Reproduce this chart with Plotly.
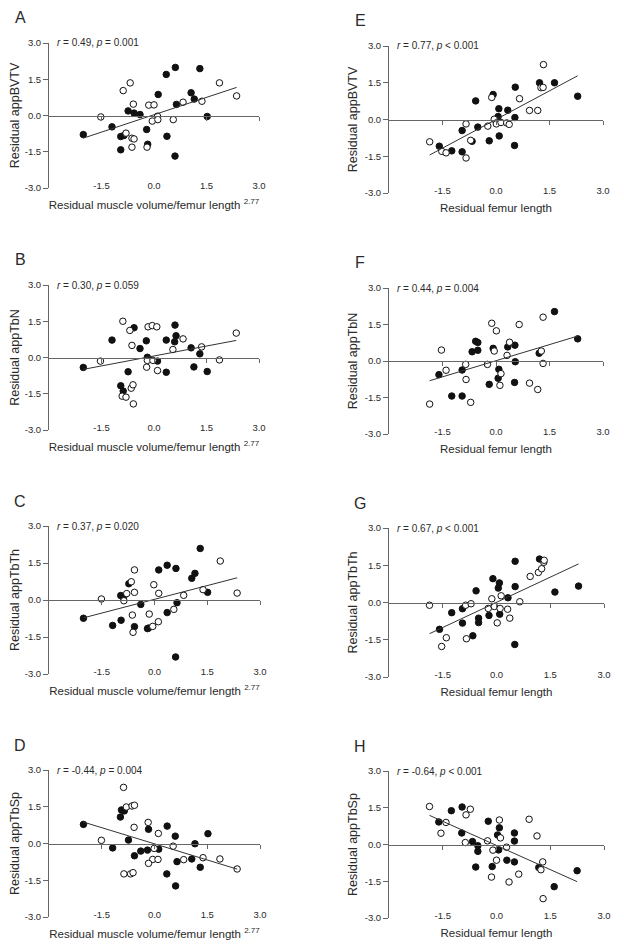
import numpy as np
import plotly.graph_objects as go

# ---------------- data ----------------
A_filled_x = [-2.02, -1.20, -0.95, -0.86, -0.95, -0.74, -0.57, -0.40, -0.21, -0.18, 0.12, 0.35, 0.37, 0.61, 0.64, 0.60, 1.06, 1.15, 1.31, 1.52]
A_filled_y = [-0.79, -0.47, -0.87, -0.83, -1.42, 0.19, 0.10, 0.04, -0.58, -1.19, 0.87, 1.70, -0.86, 1.99, 0.46, -1.68, 0.94, 0.68, 1.94, -0.04]
A_open_x = [-1.52, -0.88, -0.68, -0.80, -0.59, -0.63, -0.57, -0.63, -0.15, 0.00, -0.20, -0.05, 0.10, 0.11, 0.55, 0.83, 1.37, 1.87, 2.36]
A_open_y = [-0.06, 1.03, 1.35, -0.73, 0.47, -0.94, -0.97, -1.31, 0.43, 0.44, -1.31, -0.23, -0.03, -0.17, -0.17, 0.55, 0.59, 1.35, 0.81]

B_filled_x = [-2.02, -1.20, -0.95, -0.88, -0.74, -0.57, -0.40, -0.22, -0.19, 0.10, 0.35, 0.35, 0.60, 0.63, 0.59, 1.06, 1.14, 1.31, 1.52]
B_filled_y = [-0.41, 0.72, -1.17, -1.39, -0.59, 1.23, 0.37, 0.69, 0.01, -0.15, 0.72, -0.61, 1.34, 0.90, 0.65, 0.40, -0.39, 0.15, -0.58]
B_open_x = [-1.53, -0.89, -0.69, -0.63, -0.91, -0.80, -0.65, -0.60, -0.59, -0.17, -0.05, 0.08, -0.21, -0.19, -0.03, 0.10, 0.54, 0.83, 1.36, 1.87, 2.35]
B_open_y = [-0.15, 1.50, 1.12, 0.50, -1.60, -1.64, -1.27, -1.13, -1.92, 1.27, 1.32, 1.27, -0.40, -0.12, -0.12, -0.54, 0.33, 0.77, 0.44, -0.10, 1.01]

C_filled_x = [-2.02, -1.19, -0.96, -0.88, -0.95, -0.73, -0.57, -0.39, -0.20, -0.17, 0.12, 0.36, 0.36, 0.61, 0.64, 0.60, 1.06, 1.15, 1.30, 1.51]
C_filled_y = [-0.74, -1.03, 0.18, 0.09, -0.82, 0.66, -1.08, -0.18, -1.16, -1.14, 1.22, 1.41, -0.51, 1.28, -0.11, -2.31, 0.88, 1.08, 2.09, 0.31]
C_open_x = [-1.51, -0.87, -0.79, -0.66, -0.57, -0.57, -0.63, -0.61, -0.15, -0.02, -0.05, 0.11, 0.12, 0.55, 0.83, 1.38, 1.87, 2.35]
C_open_y = [0.04, -0.03, 0.26, 0.74, 1.22, 0.31, -0.61, -1.31, -0.57, 0.62, -1.07, -0.88, 0.27, -0.38, 0.19, 0.42, 1.58, 0.28]

D_filled_x = [-2.02, -1.19, -0.97, -0.94, -0.86, -0.74, -0.57, -0.39, -0.20, -0.17, 0.12, 0.36, 0.35, 0.59, 0.64, 0.60, 1.06, 1.15, 1.30, 1.52]
D_filled_y = [0.78, -0.18, 1.08, 1.37, 1.33, 0.14, -0.50, -0.31, -0.27, 0.58, -0.23, 0.71, -1.24, 0.30, -0.74, -1.73, -0.63, -0.01, -0.97, 0.40]
D_open_x = [-1.51, -0.88, -0.80, -0.64, -0.57, -0.58, -0.87, -0.68, -0.61, -0.18, -0.01, -0.05, -0.17, 0.10, 0.11, 0.53, 0.83, 1.38, 1.86, 2.35]
D_open_y = [0.13, 2.29, 1.49, 1.53, 1.56, 0.66, -1.24, -1.24, -1.19, 0.86, -0.20, -0.65, -0.81, -0.65, 0.41, -0.11, -0.66, -0.58, -0.63, -1.04]

E_filled_x = [-1.59, -1.24, -0.95, -0.95, -0.67, -0.57, -0.51, -0.19, -0.08, 0.08, 0.06, 0.09, 0.33, 0.54, 0.53, 0.52, 1.22, 1.64, 2.29]
E_filled_y = [-1.09, -1.28, -0.45, -1.32, -0.89, 0.76, -0.31, -0.87, 1.02, 0.44, 0.12, -0.67, 0.38, 1.32, 0.08, -1.06, 1.50, 1.50, 0.95]
E_open_x = [-1.86, -1.52, -1.40, -0.84, -0.71, -0.84, -0.23, -0.12, -0.05, 0.01, 0.14, 0.30, 0.37, 0.66, 0.94, 1.17, 1.26, 1.32, 1.33]
E_open_y = [-0.91, -1.30, -1.36, -0.18, -0.85, -1.57, -0.27, 0.90, 0.01, -0.18, -0.12, -0.14, -0.20, 0.85, 0.37, 0.37, 1.30, 1.31, 2.24]

F_filled_x = [-1.60, -1.24, -0.95, -0.95, -0.67, -0.57, -0.51, -0.51, -0.19, -0.08, 0.08, 0.06, 0.33, 0.53, 0.54, 0.52, 1.21, 1.64, 2.29]
F_filled_y = [-0.56, -1.44, -0.37, -1.44, 0.38, 0.81, 0.76, 0.44, -0.96, 0.52, -0.34, -0.71, 0.58, 0.65, -0.03, -0.88, 0.32, 2.03, 0.91]
F_open_x = [-1.86, -1.53, -1.40, -0.85, -0.84, -0.71, -0.24, -0.12, -0.05, 0.01, 0.11, 0.14, 0.38, 0.31, 0.65, 0.94, 1.17, 1.27, 1.32, 1.32]
F_open_y = [-1.77, 0.45, -0.38, -0.14, -0.76, -1.70, -0.14, 1.55, 0.41, 1.24, -1.00, -0.52, 0.77, 0.23, 1.50, -0.91, -1.17, 0.41, -0.10, 1.80]

G_filled_x = [-1.59, -1.25, -0.95, -0.95, -0.66, -0.57, -0.50, -0.50, -0.21, -0.10, 0.05, 0.08, 0.09, 0.32, 0.52, 0.52, 0.51, 1.20, 1.63, 2.29]
G_filled_y = [-1.08, -0.41, -0.25, -0.83, -1.34, 0.47, -0.63, -0.81, -0.52, 0.96, 0.58, 0.79, -0.47, 0.19, 1.66, 0.64, -1.69, 1.75, 0.42, 0.66]
G_open_x = [-1.87, -1.53, -1.40, -0.86, -0.71, -0.84, -0.23, -0.13, -0.06, 0.02, 0.10, 0.13, 0.31, 0.37, 0.65, 0.94, 1.17, 1.26, 1.32, 1.33]
G_open_y = [-0.11, -1.77, -1.42, -0.11, -0.05, -1.46, -0.24, 0.15, -0.16, -0.82, -0.24, 0.27, -0.27, -0.63, 0.03, 1.05, 1.21, 1.36, 1.62, 1.70]

H_filled_x = [-1.61, -1.26, -0.96, -0.97, -0.67, -0.52, -0.52, -0.58, -0.23, -0.12, 0.03, 0.08, 0.06, 0.29, 0.50, 0.50, 0.50, 1.18, 1.61, 2.25]
H_filled_y = [0.92, 1.38, 1.53, 0.47, 0.12, -0.05, -0.28, -0.92, 0.95, -0.90, 0.39, 0.68, -0.22, -0.64, 0.47, 0.14, -0.71, -0.94, -1.72, -1.07]
H_open_x = [-1.87, -1.55, -1.41, -0.87, -0.85, -0.73, -0.25, -0.10, 0.00, -0.14, 0.08, 0.11, 0.28, 0.35, 0.62, 0.91, 1.13, 1.24, 1.29, 1.30]
H_open_y = [1.55, 0.46, 0.90, 0.08, 1.21, 1.44, 0.15, -0.23, -0.64, -1.33, 1.00, 0.27, -0.11, -1.53, -1.21, 1.03, 0.35, -1.03, -0.71, -2.21]

panel_letters = ["A", "B", "C", "D", "E", "F", "G", "H"]
y_titles = ["Residual appBVTV", "Residual appTbN", "Residual appTbTh", "Residual appTbSp"] * 2
x_titles = ["Residual muscle volume/femur length <sup>2.77</sup>"] * 4 + ["Residual femur length"] * 4
stat_texts = [
    "<i>r</i> = 0.49, <i>p</i> = 0.001",
    "<i>r</i> = 0.30, <i>p</i> = 0.059",
    "<i>r</i> = 0.37, <i>p</i> = 0.020",
    "<i>r</i> = -0.44, <i>p</i> = 0.004",
    "<i>r</i> = 0.77, <i>p</i> &lt; 0.001",
    "<i>r</i> = 0.44, <i>p</i> = 0.004",
    "<i>r</i> = 0.67, <i>p</i> &lt; 0.001",
    "<i>r</i> = -0.64, <i>p</i> &lt; 0.001",
]
x_tick_vals = [-1.5, 0.0, 1.5, 3.0]
x_tick_text = ["-1.5", "0.0", "1.5", "3.0"]
y_tick_vals = [-3.0, -1.5, 0.0, 1.5, 3.0]
y_tick_text = ["-3.0", "-1.5", "0.0", "1.5", "3.0"]
axis_range = [-3, 3]

panel_data = {
    "A": (A_filled_x, A_filled_y, A_open_x, A_open_y),
    "B": (B_filled_x, B_filled_y, B_open_x, B_open_y),
    "C": (C_filled_x, C_filled_y, C_open_x, C_open_y),
    "D": (D_filled_x, D_filled_y, D_open_x, D_open_y),
    "E": (E_filled_x, E_filled_y, E_open_x, E_open_y),
    "F": (F_filled_x, F_filled_y, F_open_x, F_open_y),
    "G": (G_filled_x, G_filled_y, G_open_x, G_open_y),
    "H": (H_filled_x, H_filled_y, H_open_x, H_open_y),
}

# ---------------- layout geometry ----------------
# The page body has an 8px margin, so the figure is sized to fit inside the
# 624x952 window and page-pixel positions are shifted by that margin.
PAGE_OFF = 8
W, H = 608, 936
geom = {  # left, right, top, bottom of plot area, in page pixels
    "A": (49, 259, 43, 188),
    "B": (49, 259, 285, 430),
    "C": (49, 260, 526, 674),
    "D": (49, 260, 770, 917),
    "E": (389, 603, 46, 193),
    "F": (389, 603, 288, 434),
    "G": (389, 604, 528, 677),
    "H": (389, 604, 771, 918),
}


def fx_(px):
    return (px - PAGE_OFF) / W


def fy_(py):
    return 1 - (py - PAGE_OFF) / H


FONT = "Liberation Sans, Arial, sans-serif"
TXT = "#2a2a2a"
LINE = "#666666"

fig = go.Figure()
layout = dict(
    width=W, height=H,
    margin=dict(l=0, r=0, t=0, b=0),
    paper_bgcolor="white", plot_bgcolor="white",
    showlegend=False,
    font=dict(family=FONT, color=TXT, size=10),
)
annotations = []


def sid(n):
    return "" if n == 1 else str(n)


for i, p in enumerate(panel_letters):
    n = i + 1
    nl = n + 8
    l, r, t, b = geom[p]
    fx, fy, ox, oy = panel_data[p]
    right_col = i >= 4

    # filled circles
    fig.add_trace(go.Scatter(
        x=fx, y=fy, mode="markers",
        marker=dict(size=6.5, color="#111111", line=dict(width=1, color="#111111")),
        xaxis="x" + sid(n), yaxis="y" + sid(n), hoverinfo="skip"))
    # open circles
    fig.add_trace(go.Scatter(
        x=ox, y=oy, mode="markers",
        marker=dict(size=6.5, color="white", line=dict(width=1, color="#111111")),
        xaxis="x" + sid(n), yaxis="y" + sid(n), hoverinfo="skip"))
    # regression line fitted to the plotted data
    allx = np.array(fx + ox)
    ally = np.array(fy + oy)
    slope, icpt = np.polyfit(allx, ally, 1)
    lx = np.array([allx.min(), allx.max()])
    fig.add_trace(go.Scatter(
        x=lx, y=slope * lx + icpt, mode="lines",
        line=dict(color="#333333", width=1),
        xaxis="x" + str(nl), yaxis="y" + sid(n), hoverinfo="skip"))

    # x axis drawn through y = 0 (line + ticks)
    layout["xaxis" + sid(n)] = dict(
        domain=[fx_(l), fx_(r)], range=axis_range, anchor="free",
        position=fy_((t + b) / 2),
        showline=True, linecolor=LINE, linewidth=1,
        ticks="outside", ticklen=4, tickcolor=LINE, tickwidth=1,
        tickvals=x_tick_vals, showticklabels=False,
        showgrid=False, zeroline=False, automargin=False, fixedrange=True)
    # x axis carrying labels and title at the bottom
    layout["xaxis" + str(nl)] = dict(
        overlaying="x" + sid(n), range=axis_range, anchor="free",
        position=fy_(b - 10),
        showline=False, ticks="", tickvals=x_tick_vals, ticktext=x_tick_text,
        tickfont=dict(size=9.5, color=TXT, family=FONT),
        title=dict(text=x_titles[i], font=dict(size=11.5, color=TXT, family=FONT),
                   standoff=9 if right_col else 11),
        showgrid=False, zeroline=False, automargin=False, fixedrange=True)
    # y axis
    layout["yaxis" + sid(n)] = dict(
        domain=[fy_(b), fy_(t)], range=axis_range, anchor="x" + sid(n),
        showline=True, linecolor=LINE, linewidth=1,
        ticks="outside", ticklen=5, tickcolor=LINE, tickwidth=1,
        tickvals=y_tick_vals, ticktext=y_tick_text,
        tickfont=dict(size=9.5, color=TXT, family=FONT),
        title=dict(text=y_titles[i], font=dict(size=12.5, color=TXT, family=FONT), standoff=4),
        showgrid=False, zeroline=False, automargin=False, fixedrange=True)

    annotations.append(dict(
        text=stat_texts[i], xref="x" + sid(n) + " domain", yref="y" + sid(n) + " domain",
        x=0, y=1, xanchor="left", yanchor="middle", xshift=6, showarrow=False,
        font=dict(size=10, color=TXT, family=FONT)))
    annotations.append(dict(
        text=p, xref="paper", yref="paper",
        x=fx_(l - 29), y=fy_(t - 25), xanchor="center", yanchor="middle",
        showarrow=False, font=dict(size=16, color=TXT, family=FONT)))

layout["annotations"] = annotations
fig.update_layout(**layout)
fig.write_html("out.html")
